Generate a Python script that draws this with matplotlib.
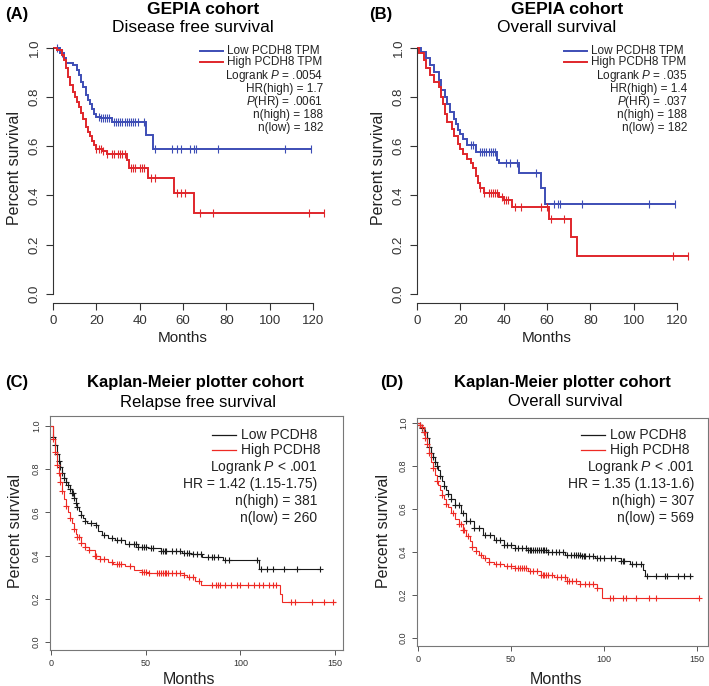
import numpy as np
import matplotlib
matplotlib.use('Agg')
import matplotlib.pyplot as plt
from matplotlib.lines import Line2D

plt.rcParams['font.family'] = ['Liberation Sans', 'DejaVu Sans']
plt.rcParams['mathtext.fontset'] = 'custom'
plt.rcParams['mathtext.rm'] = 'Liberation Sans'
plt.rcParams['mathtext.it'] = 'Liberation Sans:italic'

# ---- data (months, survival fraction) ----
# (A) GEPIA disease free survival
a_low_t = [0, 3, 5, 6, 9, 11, 12, 13, 14, 15, 16, 17, 18, 19, 20, 22, 27, 43, 46]
a_low_s = [1.0, 0.98, 0.96, 0.94, 0.93, 0.91, 0.89, 0.86, 0.84, 0.81, 0.79, 0.77, 0.75, 0.73, 0.72, 0.715, 0.70, 0.645, 0.59]
a_low_end = 119
a_low_cens = [2, 4, 21, 22, 23, 24, 25, 26, 28, 29, 30, 31, 32, 33, 34, 35, 36, 37, 38, 39, 42,
              47, 55, 57, 59, 63, 65, 66, 76, 107, 119]
a_high_t = [0, 2, 4, 5, 6, 7, 8, 9, 10, 11, 12, 13, 14, 15, 16, 17, 18, 19, 20, 23, 25, 34, 35, 44, 56, 65]
a_high_s = [1.0, 0.99, 0.97, 0.95, 0.92, 0.88, 0.85, 0.82, 0.80, 0.78, 0.76, 0.735, 0.71, 0.68, 0.66,
            0.64, 0.62, 0.605, 0.59, 0.58, 0.57, 0.545, 0.51, 0.47, 0.41, 0.33]
a_high_end = 125
a_high_cens = [20, 21, 22, 23, 25, 27, 28, 30, 31, 32, 33, 36, 37, 38, 40, 41, 42, 45, 47,
               57, 59, 61, 68, 74, 118, 125]

# (B) GEPIA overall survival
b_low_t = [0, 2, 4, 6, 8, 10, 11, 13, 14, 15, 17, 18, 19, 20, 21, 23, 27, 37, 38, 47, 57, 59]
b_low_s = [1.0, 0.985, 0.96, 0.93, 0.90, 0.87, 0.83, 0.80, 0.77, 0.74, 0.71, 0.69, 0.665, 0.65,
           0.63, 0.605, 0.575, 0.545, 0.53, 0.49, 0.43, 0.365]
b_low_end = 119
b_low_cens = [25, 26, 29, 30, 31, 32, 33, 34, 35, 36, 41, 43, 46, 55, 63, 65, 66, 76, 107, 119]
b_high_t = [0, 1, 3, 4, 6, 8, 10, 11, 12, 13, 14, 16, 17, 19, 20, 21, 23, 25, 26, 27, 28, 29, 31,
            38, 40, 44, 61, 71, 74]
b_high_s = [1.0, 0.98, 0.95, 0.92, 0.89, 0.86, 0.84, 0.80, 0.77, 0.73, 0.70, 0.67, 0.64, 0.61, 0.59,
            0.57, 0.55, 0.53, 0.51, 0.48, 0.45, 0.43, 0.41, 0.395, 0.38, 0.355, 0.305, 0.23, 0.152]
b_high_end = 125
b_high_cens = [29, 31, 33, 34, 35, 36, 37, 39, 40, 41, 42, 45, 48, 57, 60, 62, 68, 118, 125]

# (C) KM plotter relapse free survival
c_low_t = [0, 1, 2, 3, 4, 5, 6, 7, 8, 9, 10, 11, 12, 13, 14, 15, 16, 17, 18, 19, 24, 25, 27, 30,
           34, 39, 46, 51, 58, 69, 74, 80, 91, 110]
c_low_s = [1.0, 0.95, 0.91, 0.87, 0.84, 0.81, 0.78, 0.76, 0.74, 0.725, 0.71, 0.69, 0.665, 0.645,
           0.625, 0.605, 0.59, 0.575, 0.56, 0.55, 0.54, 0.515, 0.495, 0.48, 0.47, 0.455, 0.44,
           0.435, 0.42, 0.413, 0.405, 0.395, 0.38, 0.336]
c_low_end = 142
c_low_cens = [1, 2, 3, 4, 5, 6, 7, 8, 9, 10, 11, 11.5, 12, 13, 14, 16, 18, 21, 24, 28, 32, 35, 37,
              41, 44, 45, 46, 48, 49, 50, 53, 54, 58, 59, 60, 61, 64, 66, 68, 70, 72, 73, 75, 77,
              79, 83, 85, 86, 88, 92, 94, 109, 111, 114, 117, 123, 130, 142]
c_high_t = [0, 1, 2, 3, 4, 5, 6, 7, 8, 9, 10, 11, 12, 13, 14, 16, 18, 20, 23, 26, 30, 33, 39, 44,
            48, 51, 70, 72, 76, 79, 121, 122]
c_high_s = [1.0, 0.94, 0.88, 0.82, 0.78, 0.74, 0.70, 0.66, 0.63, 0.60, 0.575, 0.55, 0.525, 0.50,
            0.485, 0.46, 0.44, 0.425, 0.40, 0.385, 0.37, 0.36, 0.35, 0.335, 0.325, 0.318, 0.312,
            0.30, 0.284, 0.264, 0.22, 0.185]
c_high_end = 150
c_high_cens = [1, 2, 3, 4, 5, 6, 8, 10, 12, 14, 15, 16, 18, 20, 23, 24, 26, 28, 32, 35, 36, 37,
               42, 48, 49, 50, 52, 56, 57, 58, 59, 60, 61, 62, 64, 66, 68, 70, 73, 75, 78, 85,
               87, 88, 89, 92, 95, 98, 100, 104, 107, 110, 112, 115, 117, 119, 127, 129, 138,
               144, 149]

# (D) KM plotter overall survival
d_low_t = [0, 1, 2, 3, 5, 6, 7, 8, 9, 10, 11, 12, 13, 14, 15, 16, 18, 20, 23, 26, 30, 35, 41, 46,
           52, 59, 70, 79, 88, 95, 109, 114, 121, 122]
d_low_s = [1.0, 0.99, 0.975, 0.96, 0.93, 0.89, 0.86, 0.84, 0.82, 0.80, 0.78, 0.755, 0.73, 0.705,
           0.69, 0.67, 0.645, 0.62, 0.58, 0.545, 0.51, 0.48, 0.457, 0.434, 0.42, 0.41, 0.398,
           0.388, 0.38, 0.372, 0.357, 0.344, 0.318, 0.29]
d_low_end = 147
d_low_cens = [1, 2, 3, 4, 5, 6, 7, 8, 9, 10, 12, 14, 16, 18, 20, 22, 24, 26, 28, 30, 33, 36, 39,
              42, 44, 46, 48, 50, 52, 54, 56, 58, 59, 60, 61, 62, 63, 64, 65, 66, 67, 68, 69, 70,
              72, 74, 76, 78, 80, 82, 84, 85, 86, 87, 88, 89, 90, 92, 94, 96, 98, 100, 104, 106,
              109, 110, 111, 115, 117, 120, 123, 128, 133, 134, 140, 143, 146]
d_high_t = [0, 1, 2, 3, 4, 5, 6, 7, 8, 9, 10, 11, 12, 13, 14, 15, 16, 18, 20, 22, 24, 26, 28, 29,
            31, 33, 35, 38, 41, 46, 52, 59, 66, 73, 80, 87, 96, 99]
d_high_s = [1.0, 0.99, 0.98, 0.96, 0.93, 0.90, 0.86, 0.82, 0.79, 0.76, 0.73, 0.71, 0.69, 0.665,
            0.645, 0.625, 0.61, 0.58, 0.555, 0.53, 0.50, 0.475, 0.45, 0.425, 0.405, 0.385, 0.37,
            0.355, 0.344, 0.333, 0.326, 0.31, 0.295, 0.282, 0.264, 0.252, 0.232, 0.188]
d_high_end = 151
d_high_cens = [1, 2, 3, 4, 5, 6, 8, 10, 13, 15, 19, 22, 23, 24, 25, 27, 29, 31, 34, 36, 38, 42,
               44, 48, 50, 52, 54, 55, 56, 57, 58, 60, 62, 64, 66, 67, 68, 69, 70, 72, 75, 77,
               79, 80, 81, 83, 85, 87, 90, 92, 94, 96, 103, 105, 110, 112, 117, 124, 128, 151]

W, H = 709, 686
BLUE = '#3d4db5'
RED_G = '#e0262b'
RED_K = '#ee2a24'


def fx(px):
    return px / W


def fy(py):
    return 1 - py / H


def rect(l, t, r, b):
    return [fx(l), fy(b), (r - l) / W, (b - t) / H]


def km(ax, t, s, t_end, cens, color, lw, marker, ms, mew):
    tt = list(t) + [t_end]
    ss = list(s) + [s[-1]]
    ax.step(tt, ss, where='post', color=color, lw=lw, solid_joinstyle='miter')
    c = np.array(cens, dtype=float)
    idx = np.searchsorted(np.array(t, dtype=float), c, side='right') - 1
    ax.plot(c, np.array(s)[idx], ls='none', marker=marker, ms=ms, mew=mew, color=color)


fig = plt.figure(figsize=(W / 100, H / 100), dpi=100)

# ---------- GEPIA panels ----------
gepia = [
    (53, 'Disease free survival', 'A',
     (a_low_t, a_low_s, a_low_end, a_low_cens), (a_high_t, a_high_s, a_high_end, a_high_cens),
     ['Logrank $P$ = .0054', 'HR(high) = 1.7', '$P$(HR) = .0061', 'n(high) = 188', 'n(low) = 182']),
    (417, 'Overall survival', 'B',
     (b_low_t, b_low_s, b_low_end, b_low_cens), (b_high_t, b_high_s, b_high_end, b_high_cens),
     ['Logrank $P$ = .035', 'HR(high) = 1.4', '$P$(HR) = .037', 'n(high) = 188', 'n(low) = 182']),
]
for x0, sub, tag, low, high, stats in gepia:
    ppm = 2.1667
    ax = fig.add_axes(rect(x0, 38, x0 + 128 * ppm, 303))
    ax.set_xlim(0, 128)
    ax.set_ylim(-0.037, 1.04)
    km(ax, *low, BLUE, 1.4, '|', 6, 0.8)
    km(ax, *high, RED_G, 1.4, '|', 6, 0.8)
    for sp in ['top', 'right']:
        ax.spines[sp].set_visible(False)
    ax.spines['left'].set_bounds(0, 1)
    ax.spines['bottom'].set_bounds(0, 120)
    for sp in ['left', 'bottom']:
        ax.spines[sp].set_color('#333333')
        ax.spines[sp].set_linewidth(0.8)
    ax.set_xticks([0, 20, 40, 60, 80, 100, 120])
    ax.set_yticks([0.0, 0.2, 0.4, 0.6, 0.8, 1.0])
    ax.set_yticklabels(['0.0', '0.2', '0.4', '0.6', '0.8', '1.0'])
    ax.tick_params(direction='out', length=5, width=0.8, color='#333333',
                   labelsize=9.5, labelcolor='#333333', pad=4)
    for lab in ax.get_yticklabels():
        lab.set_rotation(90)
        lab.set_va('center')
    cx = x0 + 150
    fig.text(fx(x0 - 48), fy(15), f'({tag})', fontsize=12, fontweight='bold', ha='left', va='center')
    fig.text(fx(cx), fy(10), 'GEPIA cohort', fontsize=12.5, fontweight='bold', ha='center', va='center')
    fig.text(fx(cx - 10), fy(27), sub, fontsize=12.5, ha='center', va='center')
    fig.text(fx(x0 - 38), fy(168), 'Percent survival', fontsize=11.5, rotation=90,
             ha='center', va='center', color='#222222')
    fig.text(fx(x0 + 130), fy(338), 'Months', fontsize=11, ha='center', va='center', color='#222222')
    # legend
    lx = x0 + 147
    for yy, col, txt in [(51, BLUE, 'Low PCDH8 TPM'), (62, RED_G, 'High PCDH8 TPM')]:
        fig.add_artist(Line2D([fx(lx), fx(lx + 23)], [fy(yy), fy(yy)], color=col, lw=1.4,
                              transform=fig.transFigure))
        fig.text(fx(lx + 27), fy(yy), txt, fontsize=8.5, ha='left', va='center', color='#222222')
    for i, txt in enumerate(stats):
        yy = [76, 89, 102, 115, 128][i]
        fig.text(fx(x0 + 270), fy(yy), txt, fontsize=8.5, ha='right', va='center', color='#222222')

# ---------- KM plotter panels ----------
kmp = [
    ((50, 416, 343, 650), (-0.5, 154.2), (-0.037, 1.046), 'Relapse free survival', 'C',
     (c_low_t, c_low_s, c_low_end, c_low_cens), (c_high_t, c_high_s, c_high_end, c_high_cens),
     ['Logrank $P$ < .001', 'HR = 1.42 (1.15-1.75)', 'n(high) = 381', 'n(low) = 260']),
    ((417, 418, 708, 646), (-0.5, 155.9), (-0.037, 1.023), 'Overall survival', 'D',
     (d_low_t, d_low_s, d_low_end, d_low_cens), (d_high_t, d_high_s, d_high_end, d_high_cens),
     ['Logrank $P$ < .001', 'HR = 1.35 (1.13-1.6)', 'n(high) = 307', 'n(low) = 569']),
]
for box, xl, yl, sub, tag, low, high, stats in kmp:
    l, t, r, b = box
    ax = fig.add_axes(rect(l, t, r, b))
    ax.set_xlim(*xl)
    ax.set_ylim(*yl)
    km(ax, *low, '#1a1a1a', 0.8, '+', 5, 0.8)
    km(ax, *high, RED_K, 0.8, '+', 5, 0.8)
    for sp in ax.spines.values():
        sp.set_color('#777777')
        sp.set_linewidth(0.8)
    ax.set_xticks([0, 50, 100, 150])
    ax.set_yticks([0.0, 0.2, 0.4, 0.6, 0.8, 1.0])
    ax.set_yticklabels(['0.0', '0.2', '0.4', '0.6', '0.8', '1.0'])
    ax.tick_params(direction='out', length=3.5, width=0.7, color='#555555',
                   labelsize=6.5, labelcolor='#333333', pad=3)
    for lab in ax.get_yticklabels():
        lab.set_rotation(90)
        lab.set_va('center')
    cx = l + 145
    fig.text(fx(l - 45 + (tag == 'D') * 8), fy(383), f'({tag})', fontsize=12, fontweight='bold',
             ha='left', va='center')
    fig.text(fx(cx), fy(383), 'Kaplan-Meier plotter cohort', fontsize=12, fontweight='bold',
             ha='center', va='center')
    fig.text(fx(cx + 3), fy(402), sub, fontsize=12, ha='center', va='center')
    fig.text(fx(l - 34), fy(531), 'Percent survival', fontsize=11.5, rotation=90,
             ha='center', va='center', color='#222222')
    fig.text(fx(l + 139), fy(679), 'Months', fontsize=11.5, ha='center', va='center', color='#222222')
    lx = l + 162 + (tag == 'D') * 2
    for yy, col, txt in [(435, '#1a1a1a', 'Low PCDH8'), (450, RED_K, 'High PCDH8')]:
        fig.add_artist(Line2D([fx(lx), fx(lx + 24)], [fy(yy), fy(yy)], color=col, lw=0.9,
                              transform=fig.transFigure))
        fig.text(fx(lx + 29), fy(yy), txt, fontsize=10, ha='left', va='center', color='#222222')
    rx = l + 267 if tag == 'C' else l + 277
    for i, txt in enumerate(stats):
        yy = [467, 484, 501, 518][i]
        fig.text(fx(rx), fy(yy), txt, fontsize=10, ha='right', va='center', color='#222222')

fig.savefig('out.png', dpi=100)
